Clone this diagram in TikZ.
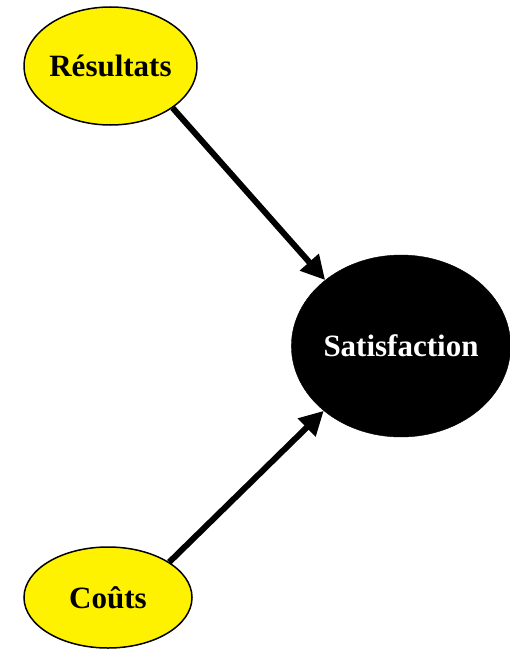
\documentclass[tikz,border=0pt]{standalone}
\usepackage{fontspec}
\setmainfont{Liberation Serif}
\usetikzlibrary{shapes.geometric,arrows.meta}
\begin{document}
\begin{tikzpicture}[x=1pt,y=-1pt,
  factor/.style={ellipse, draw=black, line width=1.5pt, fill=yellow, inner sep=0pt,
    font=\fontsize{31}{36}\selectfont\bfseries, text=black},
  outcome/.style={ellipse, draw=black, fill=black, inner sep=0pt,
    font=\fontsize{31}{36}\selectfont\bfseries, text=white},
  link/.style={line width=6pt, -{Triangle[length=24pt,width=24pt]}}]
  \useasboundingbox (0,0) rectangle (510,650);
  \node[factor, minimum width=167pt, minimum height=118pt] (res) at (110.5,66) {Résultats};
  \node[outcome, minimum width=206pt, minimum height=182pt] (sat) at (401,346) {Satisfaction};
  \node[factor, minimum width=168pt, minimum height=101pt] (cou) at (108,597.5) {Coûts};
  \draw[link] (res.-34) -- (sat.139.5);
  \draw[link] (cou.30) -- (sat.220.5);
\end{tikzpicture}
\end{document}
